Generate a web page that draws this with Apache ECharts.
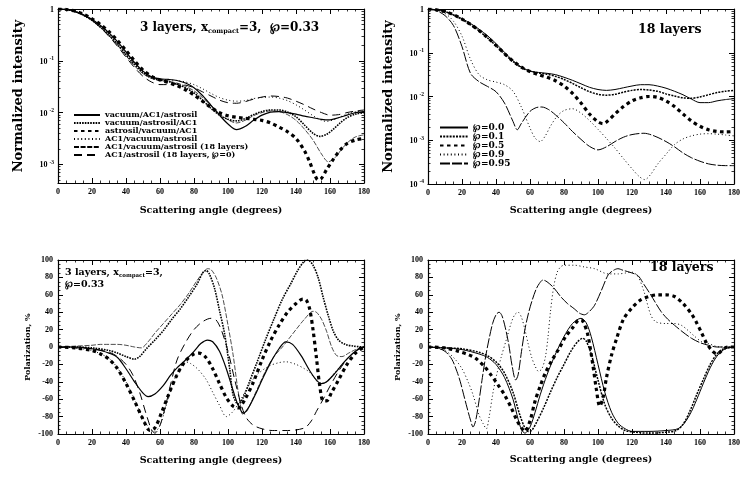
<!DOCTYPE html>
<html>
<head>
<meta charset="utf-8">
<script src="https://cdn.jsdelivr.net/npm/echarts@6/dist/echarts.min.js"></script>
<style>
html, body { margin: 0; padding: 0; background: #fff; }
#chart { width: 749px; height: 478px; }
</style>
</head>
<body>
<div id="chart"></div>
<script>
// tick values of the log panels, in log10 units
const logTicks3 = [0, -1, -2, -3];
const logTicks18 = [0, -1, -2, -3, -4];

const namesLayers = ['vacuum/AC1/astrosil', 'vacuum/astrosil/AC1', 'astrosil/vacuum/AC1',
    'AC1/vacuum/astrosil', 'AC1/vacuum/astrosil (18 layers)', 'AC1/astrosil (18 layers, \u2118=0)'];
const namesPor = ['\u2118=0.0', '\u2118=0.1', '\u2118=0.5', '\u2118=0.9', '\u2118=0.95'];

// top left: log10 of normalized intensity, [angle, lg I]
const lgVacAc1Ast = [[0,0],[5,-0.01],[10,-0.05],[15,-0.11],[20,-0.2],[25,-0.32],[30,-0.46],[35,-0.63],[40,-0.83],[45,-1.03],[50,-1.2],[55,-1.31],[60,-1.35],[65,-1.36],[70,-1.38],[75,-1.43],[80,-1.52],[85,-1.67],[90,-1.86],[95,-2.05],[100,-2.22],[105,-2.33],[110,-2.27],[115,-2.15],[120,-2.05],[125,-1.99],[130,-1.98],[135,-2.0],[140,-2.03],[145,-2.07],[150,-2.1],[155,-2.13],[160,-2.14],[165,-2.1],[170,-2.05],[175,-2.0],[180,-1.98]];
const lgVacAstAc1 = [[0,0],[5,-0.01],[10,-0.05],[15,-0.12],[20,-0.22],[25,-0.35],[30,-0.5],[35,-0.68],[40,-0.88],[45,-1.07],[50,-1.23],[55,-1.33],[60,-1.37],[65,-1.4],[70,-1.45],[75,-1.52],[80,-1.62],[85,-1.76],[90,-1.92],[95,-2.05],[100,-2.13],[105,-2.16],[110,-2.12],[115,-2.04],[120,-1.98],[125,-1.95],[130,-1.95],[135,-1.99],[140,-2.08],[145,-2.24],[150,-2.4],[154,-2.46],[158,-2.42],[162,-2.32],[166,-2.2],[170,-2.1],[175,-2.03],[180,-2.0]];
const lgAstVacAc1 = [[0,0],[5,-0.01],[10,-0.04],[15,-0.1],[20,-0.19],[25,-0.3],[30,-0.44],[35,-0.61],[40,-0.8],[45,-1.0],[50,-1.18],[55,-1.3],[60,-1.37],[65,-1.42],[70,-1.48],[75,-1.56],[80,-1.66],[85,-1.78],[90,-1.9],[95,-2.0],[100,-2.06],[105,-2.09],[110,-2.11],[115,-2.13],[120,-2.15],[125,-2.2],[130,-2.28],[135,-2.37],[140,-2.5],[145,-2.74],[148,-2.95],[151,-3.2],[153,-3.3],[155,-3.27],[158,-3.1],[162,-2.9],[166,-2.72],[170,-2.6],[175,-2.53],[180,-2.5]];
const lgAc1VacAst = [[0,0],[5,-0.01],[10,-0.05],[15,-0.12],[20,-0.21],[25,-0.34],[30,-0.49],[35,-0.67],[40,-0.87],[45,-1.06],[50,-1.22],[55,-1.32],[60,-1.36],[65,-1.37],[70,-1.38],[75,-1.41],[80,-1.46],[85,-1.54],[90,-1.63],[95,-1.71],[100,-1.76],[105,-1.78],[110,-1.77],[115,-1.73],[120,-1.71],[125,-1.7],[130,-1.72],[135,-1.77],[140,-1.85],[145,-1.95],[150,-2.06],[155,-2.15],[158,-2.17],[162,-2.14],[167,-2.07],[172,-2.01],[176,-1.98],[180,-1.97]];
const lgAc1VacAst18 = [[0,0],[5,-0.01],[10,-0.05],[15,-0.12],[20,-0.22],[25,-0.36],[30,-0.52],[35,-0.7],[40,-0.9],[45,-1.1],[50,-1.25],[55,-1.34],[60,-1.38],[65,-1.4],[70,-1.43],[75,-1.49],[80,-1.58],[85,-1.71],[90,-1.86],[95,-2.02],[100,-2.14],[105,-2.2],[110,-2.15],[115,-2.06],[120,-2.0],[125,-1.97],[130,-1.98],[135,-2.04],[140,-2.15],[145,-2.32],[150,-2.53],[155,-2.8],[159,-2.95],[163,-2.87],[167,-2.7],[171,-2.56],[175,-2.47],[180,-2.43]];
const lgAc1Ast18 = [[0,0],[5,-0.01],[10,-0.05],[15,-0.12],[20,-0.22],[25,-0.36],[30,-0.53],[35,-0.72],[40,-0.93],[45,-1.13],[50,-1.3],[55,-1.41],[60,-1.46],[65,-1.46],[70,-1.45],[75,-1.47],[80,-1.52],[85,-1.6],[90,-1.68],[95,-1.76],[100,-1.81],[105,-1.82],[110,-1.79],[115,-1.74],[120,-1.7],[125,-1.68],[130,-1.69],[135,-1.72],[140,-1.78],[145,-1.85],[150,-1.93],[155,-2.0],[160,-2.05],[165,-2.04],[170,-2.0],[175,-1.97],[180,-1.95]];

// top right: log10 of normalized intensity, 18 layers
const lgP00 = [[0,0],[5,-0.02],[10,-0.06],[15,-0.13],[20,-0.22],[25,-0.33],[30,-0.46],[35,-0.61],[40,-0.79],[45,-0.99],[50,-1.18],[55,-1.33],[60,-1.42],[65,-1.45],[70,-1.47],[75,-1.5],[80,-1.56],[85,-1.63],[90,-1.71],[95,-1.79],[100,-1.84],[105,-1.86],[110,-1.84],[115,-1.8],[120,-1.76],[125,-1.73],[130,-1.73],[135,-1.76],[140,-1.81],[145,-1.88],[150,-1.96],[155,-2.06],[160,-2.14],[165,-2.14],[170,-2.1],[175,-2.07],[180,-2.05]];
const lgP01 = [[0,0],[5,-0.02],[10,-0.06],[15,-0.14],[20,-0.24],[25,-0.36],[30,-0.5],[35,-0.66],[40,-0.84],[45,-1.03],[50,-1.2],[55,-1.34],[60,-1.42],[65,-1.46],[70,-1.49],[75,-1.54],[80,-1.61],[85,-1.7],[90,-1.8],[95,-1.89],[100,-1.95],[105,-1.97],[110,-1.95],[115,-1.9],[120,-1.86],[125,-1.84],[130,-1.85],[135,-1.88],[140,-1.94],[145,-1.99],[150,-2.03],[155,-2.04],[160,-2.01],[165,-1.96],[170,-1.91],[175,-1.88],[180,-1.86]];
const lgP05 = [[0,0],[5,-0.02],[10,-0.06],[15,-0.13],[20,-0.23],[25,-0.35],[30,-0.49],[35,-0.65],[40,-0.83],[45,-1.02],[50,-1.19],[55,-1.33],[60,-1.43],[65,-1.5],[70,-1.56],[75,-1.64],[80,-1.76],[85,-1.93],[90,-2.15],[95,-2.4],[100,-2.58],[103,-2.62],[106,-2.55],[110,-2.4],[115,-2.23],[120,-2.1],[125,-2.03],[130,-2.0],[135,-2.02],[140,-2.1],[145,-2.23],[150,-2.4],[155,-2.56],[160,-2.68],[165,-2.76],[170,-2.8],[175,-2.81],[180,-2.8]];
const lgP09 = [[0,0],[5,-0.03],[10,-0.1],[15,-0.28],[20,-0.62],[25,-1.15],[30,-1.5],[35,-1.62],[40,-1.67],[45,-1.73],[50,-1.88],[55,-2.25],[60,-2.72],[63,-2.95],[66,-3.03],[69,-2.9],[72,-2.68],[76,-2.45],[80,-2.32],[85,-2.28],[90,-2.38],[95,-2.55],[100,-2.75],[105,-2.96],[110,-3.18],[115,-3.42],[120,-3.65],[124,-3.82],[127.5,-3.9],[131,-3.78],[135,-3.55],[140,-3.32],[145,-3.1],[150,-2.97],[155,-2.9],[160,-2.86],[165,-2.85],[170,-2.86],[175,-2.88],[180,-2.9]];
const lgP095 = [[0,0],[5,-0.04],[10,-0.15],[15,-0.38],[20,-0.86],[25,-1.47],[30,-1.66],[35,-1.77],[40,-1.89],[45,-2.15],[50,-2.57],[52.5,-2.76],[55,-2.61],[60,-2.34],[64,-2.25],[67,-2.24],[71,-2.3],[75,-2.42],[80,-2.6],[85,-2.8],[90,-2.98],[95,-3.14],[100,-3.22],[105,-3.15],[110,-3.03],[115,-2.93],[120,-2.87],[127,-2.84],[133,-2.9],[140,-3.03],[145,-3.15],[150,-3.29],[155,-3.4],[160,-3.48],[165,-3.54],[170,-3.57],[175,-3.58],[180,-3.58]];

// bottom left: polarization, %
const polVacAc1Ast = [[0,0],[10,0],[20,-2],[25,-4],[30,-7],[35,-12],[40,-25],[45,-40],[50,-53],[53,-57],[57,-54],[62,-44],[66,-33],[70,-24],[75,-15],[80,-5],[84,4],[88,8],[91,6],[95,-5],[99,-25],[103,-50],[106,-67],[109,-76],[112,-70],[116,-55],[120,-38],[125,-18],[130,-2],[134,6],[138,3],[143,-10],[148,-27],[152,-38],[155,-42],[158,-40],[163,-30],[168,-18],[173,-8],[177,-2],[180,0]];
const polVacAstAc1 = [[0,0],[10,0],[20,-1],[30,-4],[35,-7],[40,-11],[45,-14],[48,-11],[52,-2],[57,8],[62,19],[67,32],[72,44],[77,58],[82,73],[85,85],[87,88],[89,84],[92,68],[95,42],[98,15],[101,-25],[103,-55],[106,-66],[109,-58],[113,-38],[117,-18],[122,8],[127,32],[132,55],[137,73],[141,88],[145,99],[147,100],[150,94],[153,80],[156,57],[159,36],[162,18],[165,8],[169,3],[174,1],[180,0]];
const polAstVacAc1 = [[0,0],[10,-1],[20,-4],[25,-8],[30,-14],[35,-25],[40,-42],[45,-62],[50,-83],[54,-96],[57,-93],[61,-75],[65,-55],[70,-32],[75,-16],[80,-8],[83,-7],[87,-12],[91,-25],[95,-42],[99,-58],[103,-68],[106,-70],[110,-60],[115,-40],[120,-15],[125,7],[130,25],[135,40],[140,50],[144,55],[146,54],[148,44],[150,20],[152,-12],[154,-45],[156,-62],[158,-62],[161,-52],[165,-38],[170,-20],[175,-7],[180,0]];
const polAc1VacAst = [[0,0],[10,-1],[20,-4],[25,-8],[30,-13],[35,-24],[40,-40],[45,-60],[50,-82],[54,-94],[57,-97],[60,-90],[64,-65],[68,-40],[72,-24],[75,-17],[78,-19],[82,-25],[87,-37],[91,-52],[95,-67],[99,-80],[103,-74],[107,-62],[112,-45],[117,-32],[124,-22],[130,-18],[134,-17],[140,-20],[145,-25],[148,-29],[151,-36],[154,-42],[158,-40],[163,-29],[168,-18],[173,-8],[177,-2],[180,0]];
const polAc1VacAst18 = [[0,0],[10,1],[20,2],[25,3],[30,3],[35,3],[40,2],[45,0],[49,-1],[53,6],[57,16],[62,27],[67,38],[72,49],[77,62],[82,77],[86,87],[88,90],[90,89],[93,80],[96.5,60],[100,25],[103,-9],[105.5,-45],[107,-63],[108.5,-77],[111,-74],[114,-62],[118,-45],[122,-28],[127,-11],[132,0],[136,10],[140,20],[145,32],[150,41],[152,40],[155,32],[158,18],[161,0],[164,-10],[167,-11],[171,-7],[175,-3],[180,0]];
const polAc1Ast18 = [[0,0],[10,-1],[20,-2],[30,-6],[35,-11],[40,-20],[44,-32],[48,-52],[52,-78],[55,-95],[57,-99],[60,-90],[63,-70],[66,-45],[70,-15],[75,5],[80,20],[85,29],[90,33],[93,31],[96,20],[100,-5],[104,-38],[108,-68],[111,-82],[115,-90],[120,-94],[126,-96],[135,-96],[145,-93],[149,-85],[152,-74],[156,-60],[160,-45],[165,-28],[170,-14],[175,-5],[180,0]];

// bottom right: polarization, %, 18 layers
const polP00 = [[0,0],[10,-1],[20,-3],[30,-8],[35,-12],[40,-20],[45,-35],[50,-60],[53,-83],[55,-95],[57,-99],[60,-92],[63,-75],[66,-55],[70,-32],[75,-8],[80,12],[85,27],[90,33],[93,28],[96,12],[100,-20],[104,-52],[108,-75],[112,-88],[116,-94],[120,-97],[130,-97],[140,-96],[147,-94],[151,-87],[155,-74],[159,-56],[163,-37],[167,-20],[171,-8],[175,-2],[180,0]];
const polP01 = [[0,0],[10,-1],[20,-2],[30,-6],[35,-10],[40,-17],[45,-30],[50,-52],[54,-78],[57,-93],[59,-97],[61,-96],[64,-86],[68,-70],[72,-52],[76,-35],[80,-20],[84,-5],[88,6],[91,10],[93,7],[96,-8],[100,-38],[104,-66],[108,-82],[112,-91],[116,-96],[122,-98],[130,-99],[140,-98],[146,-96],[150,-89],[154,-74],[158,-55],[162,-37],[166,-20],[170,-8],[174,-2],[180,0]];
const polP05 = [[0,0],[10,-1],[18,-5],[24,-9],[28,-13],[33,-22],[37,-32],[41,-43],[45,-55],[49,-70],[52,-83],[55,-93],[57,-97],[60,-85],[63,-62],[66,-45],[69,-30],[73,-15],[77,-2],[81,12],[85,22],[89,31],[91,30],[94,14],[97,-21],[99,-48],[101,-68],[103,-58],[105,-35],[108,-9],[111,10],[115,32],[120,45],[125,54],[130,58],[135,60],[140,60],[145,58],[150,50],[155,38],[158,28],[161,16],[164,4],[167,-4],[170,-8],[173,-4],[176,0],[180,0]];
const polP09 = [[0,0],[5,-1],[10,-4],[15,-12],[20,-25],[24,-42],[26.5,-55],[30,-78],[32.4,-88],[34.3,-94],[36,-80],[38,-55],[40,-35],[43,-12],[46,8],[49,28],[51,37],[53,40],[55,34],[57,20],[59,3],[61,-12],[63,-22],[65,-28],[67,-25],[69,-12],[70.5,10],[72,40],[74,70],[76,86],[78,92],[80,94],[86,94],[92,92],[98,90],[106,84],[112,84],[116,85],[120,86],[123.5,81],[127,64],[131,37],[134,29],[140,27],[145,27],[149,25],[153,19],[157,12],[161,6],[165,4],[169,1],[172,0],[180,0]];
const polP095 = [[0,0],[5,-1],[10,-5],[14,-14],[17,-28],[19,-40],[21,-55],[23,-70],[25,-84],[26.5,-92],[28,-85],[30,-62],[32,-35],[34,-10],[36,10],[38,27],[40,37],[41.8,40],[43.5,36],[45.5,22],[47.5,3],[49.5,-22],[51.6,-38],[53,-32],[55,-5],[57,20],[59,38],[61,52],[63.5,66],[65.5,73],[67.6,77],[70,75],[74,68],[78,58],[82,50],[86,44],[89,39],[92,37],[95,41],[98,48],[102,65],[106,83],[109,88],[111.7,90],[115,88],[118.6,86],[123.5,82],[127,72],[131,60],[137,41],[141,32],[145,25],[150,17],[155,10],[160,5],[165,2],[170,0],[180,0]];

const FONT_T = 'DejaVu Serif';
const FONT_N = 'Liberation Serif';
const BLACK = '#000';

const stylesLayers = [
    {type: 'solid', width: 1.2},
    {type: [1.6, 1.1], width: 1.6},
    {type: [3.5, 3.5], width: 3.2},
    {type: [1, 2.6], width: 1},
    {type: [5, 1.6], width: 0.7},
    {type: [8, 5], width: 1}
];
const stylesPor = [
    {type: 'solid', width: 1},
    {type: [2, 1.2], width: 1.5},
    {type: [3.5, 3.5], width: 3.2},
    {type: [1, 2.6], width: 1},
    {type: [10, 2], width: 1}
];

const grids = [
    {left: 58, top: 9, width: 306, height: 174},
    {left: 428, top: 9, width: 306, height: 175},
    {left: 58, top: 260, width: 306, height: 174},
    {left: 428, top: 260, width: 306, height: 174}
];

function minorLog(min) {
    let out = [];
    for (let n = 0; n >= -5; n--) {
        for (let k = 2; k <= 9; k++) {
            let v = n - 1 + Math.log10(k);
            if (v >= min && v <= 0) out.push(v);
        }
    }
    return out;
}

const boxLine = {onZero: false, lineStyle: {color: BLACK, width: 1.2}};
const tickLabel = {fontFamily: FONT_N, fontWeight: 'bold', fontSize: 8, color: BLACK};

function angleAxes(g, gap) {
    let base = {
        type: 'value', gridIndex: g, min: 0, max: 180, interval: 20,
        axisLine: boxLine,
        axisTick: {inside: true, length: 5, lineStyle: {color: BLACK, width: 1}},
        minorTick: {show: true, splitNumber: 4, length: 2.5, lineStyle: {color: BLACK, width: 0.8}},
        splitLine: {show: false}, minorSplitLine: {show: false}
    };
    return [
        Object.assign({}, base, {
            position: 'bottom',
            axisLabel: Object.assign({margin: 5}, tickLabel),
            name: 'Scattering angle (degrees)', nameLocation: 'middle', nameGap: gap,
            nameTextStyle: {fontFamily: FONT_T, fontWeight: 'bold', fontSize: 9.5, color: BLACK}
        }),
        Object.assign({}, base, {position: 'top', axisLabel: {show: false}})
    ];
}

function logAxes(g, min, ticks) {
    let minor = minorLog(min);
    let common = {type: 'value', gridIndex: g, min: min, max: 0, splitLine: {show: false}};
    let major = side => Object.assign({}, common, {
        position: side, axisLine: boxLine,
        axisTick: {inside: true, length: 5, customValues: ticks, lineStyle: {color: BLACK, width: 1}}
    });
    let small = side => Object.assign({}, common, {
        position: side, offset: 0, axisLine: {show: false, onZero: false},
        axisTick: {inside: true, length: 2.5, customValues: minor, lineStyle: {color: BLACK, width: 0.8}},
        axisLabel: {show: false}
    });
    let left = major('left');
    left.axisLabel = {
        customValues: ticks, margin: 4,
        formatter: v => v === 0 ? '{b|1}' : '{b|10}{s|' + v + '}',
        rich: {
            b: Object.assign({lineHeight: 10, verticalAlign: 'bottom'}, tickLabel),
            s: {fontFamily: FONT_N, fontWeight: 'bold', fontSize: 5.5, color: BLACK, lineHeight: 6,
                verticalAlign: 'top', padding: [0, 0, 0, 2]}
        }
    };
    left.name = 'Normalized intensity';
    left.nameLocation = 'middle';
    left.nameGap = 33;
    left.nameTextStyle = {fontFamily: FONT_T, fontWeight: 'bold', fontSize: 13, color: BLACK};
    let right = major('right');
    right.axisLabel = {show: false};
    return [left, small('left'), right, small('right')];
}

function polAxes(g) {
    let base = {
        type: 'value', gridIndex: g, min: -100, max: 100, interval: 20,
        axisLine: boxLine,
        axisTick: {inside: true, length: 5, lineStyle: {color: BLACK, width: 1}},
        minorTick: {show: true, splitNumber: 4, length: 2.5, lineStyle: {color: BLACK, width: 0.8}},
        splitLine: {show: false}, minorSplitLine: {show: false}
    };
    return [
        Object.assign({}, base, {
            position: 'left',
            axisLabel: Object.assign({margin: 5}, tickLabel),
            name: 'Polarization, %', nameLocation: 'middle', nameGap: 26,
            nameTextStyle: {fontFamily: FONT_T, fontWeight: 'bold', fontSize: 8, color: BLACK}
        }),
        Object.assign({}, base, {position: 'right', axisLabel: {show: false}})
    ];
}

function lines(list, names, styles, xIdx, yIdx) {
    return list.map((data, i) => ({
        type: 'line', name: names[i], data: data,
        xAxisIndex: xIdx, yAxisIndex: yIdx,
        symbol: 'none', showSymbol: false, smooth: 0.3, silent: true,
        itemStyle: {color: BLACK, opacity: 0},
        lineStyle: Object.assign({color: BLACK, opacity: 1}, styles[i])
    }));
}

const xAxes = [].concat(angleAxes(0, 23), angleAxes(1, 22), angleAxes(2, 22), angleAxes(3, 21));
const yAxes = [].concat(logAxes(0, -3.36, logTicks3), logAxes(1, -4, logTicks18), polAxes(2), polAxes(3));

const series = [].concat(
    lines([lgVacAc1Ast, lgVacAstAc1, lgAstVacAc1, lgAc1VacAst, lgAc1VacAst18, lgAc1Ast18], namesLayers, stylesLayers, 0, 0),
    lines([lgP00, lgP01, lgP05, lgP09, lgP095], namesPor, stylesPor, 2, 4),
    lines([polVacAc1Ast, polVacAstAc1, polAstVacAc1, polAc1VacAst, polAc1VacAst18, polAc1Ast18], namesLayers, stylesLayers, 4, 8),
    lines([polP00, polP01, polP05, polP09, polP095], namesPor, stylesPor, 6, 10)
);

const legendText = size => ({fontFamily: FONT_T, fontWeight: 'bold', fontSize: size, color: BLACK});

const richLabel = (big, small) => ({
    a: {fontFamily: FONT_T, fontWeight: 'bold', fontSize: big, color: BLACK, lineHeight: big + 2},
    s: {fontFamily: FONT_T, fontWeight: 'bold', fontSize: small, color: BLACK, lineHeight: small + 1,
        verticalAlign: 'bottom', padding: [3, 0, 0, 0]}
});

const option = {
    animation: false,
    backgroundColor: '#fff',
    grid: grids,
    xAxis: xAxes,
    yAxis: yAxes,
    legend: [
        {
            data: namesLayers, orient: 'vertical', left: 73, top: 111, padding: 0,
            itemWidth: 26, itemHeight: 7.7, itemGap: 0, selectedMode: false,
            itemStyle: {opacity: 0},
            textStyle: Object.assign({lineHeight: 7.7}, legendText(8))
        },
        {
            data: namesPor, orient: 'vertical', left: 439, top: 123, padding: 0,
            itemWidth: 28, itemHeight: 8.7, itemGap: 0, selectedMode: false,
            itemStyle: {opacity: 0},
            textStyle: Object.assign({lineHeight: 8.7}, legendText(9))
        }
    ],
    graphic: [
        {type: 'text', x: 140, y: 28, silent: true, style: {
            text: '{a|3 layers, x}{s|compact}{a|=3,  \u2118=0.33}', verticalAlign: 'middle',
            rich: richLabel(12, 6.5)}},
        {type: 'text', x: 65, y: 267, silent: true, style: {
            text: '{a|3 layers, x}{s|compact}{a|=3,}\n{a|\u2118=0.33}', verticalAlign: 'top',
            rich: richLabel(9.5, 5.5)}},
        {type: 'text', x: 638, y: 30, silent: true, style: {
            text: '18 layers', verticalAlign: 'middle',
            font: 'bold 12.5px "DejaVu Serif"', fill: BLACK}},
        {type: 'text', x: 650, y: 268, silent: true, style: {
            text: '18 layers', verticalAlign: 'middle',
            font: 'bold 12.5px "DejaVu Serif"', fill: BLACK}}
    ],
    series: series
};

const chart = echarts.init(document.getElementById('chart'));
chart.setOption(option);
</script>
</body>
</html>
